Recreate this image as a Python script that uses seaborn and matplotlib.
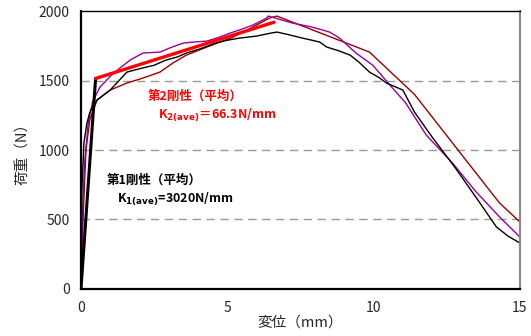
import numpy as np
import pandas as pd
import seaborn as sns
import matplotlib.pyplot as plt

# load-displacement curves
black_x = [0, 0.03, 0.1, 0.2, 0.3, 0.45, 0.55, 1.0, 1.3, 1.57, 2.1, 2.5, 2.9, 3.3, 3.6, 4.1, 4.6, 5.0, 5.4, 6.0, 6.45, 6.7,
           7.1, 7.58, 7.9, 8.16, 8.4, 8.8, 9.2, 9.5, 9.86, 10.2, 10.44, 11.0, 11.4, 12.0, 12.8, 13.5, 14.2, 14.6, 15.0]
black_y = [0, 700, 1050, 1190, 1270, 1330, 1360, 1432, 1500, 1561, 1590, 1610, 1647, 1670, 1698, 1730, 1770, 1790, 1805, 1820, 1840, 1849,
           1830, 1805, 1790, 1777, 1741, 1715, 1683, 1633, 1561, 1520, 1482, 1432, 1273, 1094, 870, 660, 446, 380, 331]

purple_x = [0, 0.05, 0.12, 0.25, 0.4, 0.65, 1.0, 1.33, 1.7, 2.12, 2.7, 3.1, 3.5, 3.9, 4.3, 4.7, 5.1, 5.5, 5.87, 6.35, 6.4,
            6.8, 7.24, 7.9, 8.5, 8.84, 9.4, 9.97, 10.5, 11.1, 11.8, 12.7, 13.5, 14.3, 15.0]
purple_y = [0, 500, 900, 1200, 1350, 1453, 1530, 1590, 1650, 1698, 1705, 1740, 1770, 1778, 1784, 1810, 1842, 1870, 1899, 1950, 1964,
            1940, 1913, 1885, 1849, 1805, 1698, 1611, 1482, 1338, 1108, 906, 700, 520, 374]

brown_x = [0, 0.07, 0.17, 0.3, 0.55, 1.0, 1.57, 2.12, 2.7, 3.14, 3.6, 4.3, 5.2, 5.87, 6.45, 6.7, 9.86, 11.4, 14.3, 15.0]
brown_y = [0, 500, 1000, 1216, 1360, 1432, 1482, 1518, 1561, 1626, 1683, 1741, 1813, 1885, 1950, 1964, 1705, 1400, 620, 482]

# stiffness lines
k1_x = [0, 0.50]
k1_y = [0, 1515]
k2_x = [0.50, 6.6]
k2_y = [1515, 1920]

sns.set_style('white')
plt.rcParams['font.family'] = ['Noto Sans CJK JP', 'DejaVu Sans']
plt.rcParams['mathtext.fontset'] = 'dejavusans'

fig = plt.figure(figsize=(5.31, 3.36), dpi=100)
ax = fig.add_axes([0.1525, 0.140, 0.8265, 0.827])

# dashed gridlines
for g in [500, 1000, 1500]:
    ax.axhline(g, color='#999999', lw=1, ls=(0, (6, 4)), zorder=0)

sns.lineplot(x=brown_x, y=brown_y, sort=False, estimator=None, color='#990000', lw=1, ax=ax)
sns.lineplot(x=purple_x, y=purple_y, sort=False, estimator=None, color='#990099', lw=1, ax=ax)
sns.lineplot(x=black_x, y=black_y, sort=False, estimator=None, color='black', lw=1, ax=ax)
sns.lineplot(x=k1_x, y=k1_y, sort=False, estimator=None, color='black', lw=2.2, ax=ax)
sns.lineplot(x=k2_x, y=k2_y, sort=False, estimator=None, color='#FF0000', lw=2.4, ax=ax)

ax.set_xlim(0, 15)
ax.set_ylim(0, 2000)
ax.set_xticks([0, 5, 10, 15])
ax.set_yticks([0, 500, 1000, 1500, 2000])
ax.tick_params(axis='x', direction='in', length=3, pad=9, labelsize=10, color='#666666')
ax.tick_params(axis='y', length=0, pad=8, labelsize=10)

ax.spines['left'].set_linewidth(1.6)
ax.spines['bottom'].set_linewidth(1.6)
ax.spines['left'].set_color('black')
ax.spines['bottom'].set_color('black')
ax.spines['top'].set_color('black')
ax.spines['top'].set_linewidth(1.0)
ax.spines['right'].set_color('#888888')
ax.spines['right'].set_linewidth(1.5)

ax.set_xlabel('変位（mm）', fontsize=10.5, labelpad=0)
ax.set_ylabel('荷重（N）', fontsize=10.5, labelpad=6)

# annotations
ax.text(2.29, 1388, '第2剛性（平均）', color='#FF0000', fontsize=9, fontweight='bold', va='center')
ax.text(2.63, 1252, r'K$_{\mathbf{2(ave)}}$＝66.3N/mm', color='#FF0000', fontsize=9, fontweight='bold', va='center')
ax.text(0.89, 784, '第1剛性（平均）', color='black', fontsize=9, fontweight='bold', va='center')
ax.text(1.23, 647, r'K$_{\mathbf{1(ave)}}$=3020N/mm', color='black', fontsize=9, fontweight='bold', va='center')

fig.savefig('out.png', dpi=100)
